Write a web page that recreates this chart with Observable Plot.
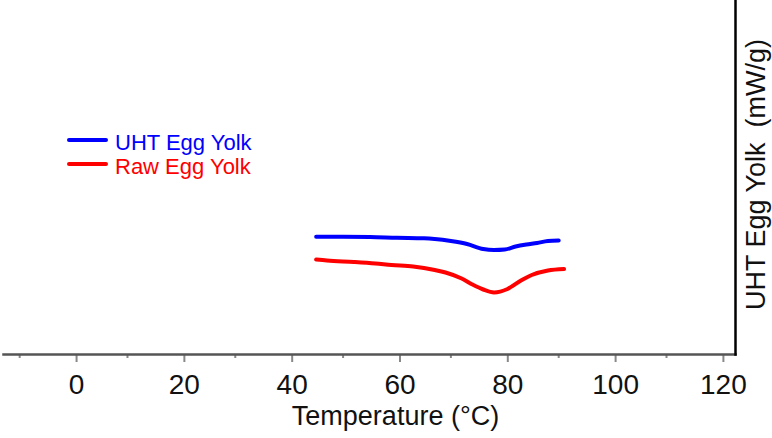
<!DOCTYPE html>
<html>
<head>
<meta charset="utf-8">
<script src="https://cdn.jsdelivr.net/npm/d3@7"></script>
<script src="https://cdn.jsdelivr.net/npm/@observablehq/plot@0.6"></script>
<style>
  body { margin: 0; background: #fff; font-family: "Liberation Sans", Arial, sans-serif; }
  #wrap { position: relative; width: 772px; height: 438px; }
  .leg { position: absolute; left: 67px; height: 26px; display: flex; align-items: center; font-size: 22px; line-height: 26px; }
  .leg span.sw { display: inline-block; width: 41px; height: 4px; margin-right: 7px; border-radius: 2px; position: relative; top: -3px; }
</style>
</head>
<body>
<div id="wrap"></div>
<script>
// Temperature (°C) and heat flow (arbitrary offset, mW/g)
const uhtTemp = [45, 50, 55, 60, 65, 67, 70, 73, 76, 78, 80, 82, 84, 86, 88, 90];
const uhtFlow = [1.177, 1.177, 1.175, 1.167, 1.162, 1.155, 1.135, 1.105, 1.055, 1.045, 1.05, 1.08, 1.10, 1.115, 1.135, 1.14];
const rawTemp = [45, 47, 52, 56, 59, 63, 65, 67, 69, 72, 74, 76, 78, 80.5, 83, 85, 88, 91];
const rawFlow = [0.95, 0.94, 0.925, 0.91, 0.895, 0.88, 0.865, 0.845, 0.82, 0.76, 0.70, 0.65, 0.62, 0.655, 0.74, 0.795, 0.84, 0.855];
const seriesNames = ["UHT Egg Yolk", "Raw Egg Yolk"];
const seriesColors = ["#0000ff", "#ff0000"];
const majorTicks = [0, 20, 40, 60, 80, 100, 120];
const minorTicks = [-10, 10, 30, 50, 70, 90, 110];
const xLabel = "Temperature (°C)";
const yLabel = "UHT Egg Yolk  (mW/g)";

const uht = uhtTemp.map((t, i) => ({t, v: uhtFlow[i], s: seriesNames[0]}));
const raw = rawTemp.map((t, i) => ({t, v: rawFlow[i], s: seriesNames[1]}));

const chart = Plot.plot({
  width: 772,
  height: 438,
  marginLeft: 3,
  marginRight: 37,
  marginTop: 0,
  marginBottom: 84,
  style: {fontFamily: "'Liberation Sans', Arial, sans-serif", background: "#fff"},
  x: {domain: [-13, 122.8]},
  y: {domain: [0, 3.54], axis: null},
  color: {domain: seriesNames, range: seriesColors},
  marks: [
    Plot.axisX({ticks: minorTicks, tickSize: 4, tickFormat: () => "", stroke: "#888", strokeWidth: 2, label: null}),
    Plot.axisX({ticks: majorTicks, tickSize: 8, tickPadding: 12, fontSize: 28, dx: 3, stroke: "#888", strokeWidth: 2, label: null, fill: "#111"}),
    Plot.frame({anchor: "bottom", stroke: "#555", strokeWidth: 2.5}),
    Plot.frame({anchor: "right", stroke: "#000", strokeWidth: 2.5}),
    Plot.line(uht, {x: "t", y: "v", stroke: "s", strokeWidth: 4, curve: "monotone-x"}),
    Plot.line(raw, {x: "t", y: "v", stroke: "s", strokeWidth: 4, curve: "monotone-x"}),
    Plot.text([xLabel], {frameAnchor: "bottom", lineAnchor: "middle", dy: 62, dx: 26, fontSize: 27, fill: "#111"}),
    Plot.text([yLabel], {frameAnchor: "right", textAnchor: "middle", lineAnchor: "middle", rotate: -90, dx: 21, dy: -3, fontSize: 27, fill: "#111"})
  ]
});
const wrap = document.getElementById("wrap");
wrap.appendChild(chart);
chart.querySelectorAll("text").forEach(t => { t.setAttribute("xml:space", "preserve"); t.style.whiteSpace = "pre"; });
seriesNames.forEach((name, i) => {
  const d = document.createElement("div");
  d.className = "leg";
  d.style.top = (130 + i * 24) + "px";
  d.style.color = seriesColors[i];
  d.innerHTML = `<span class="sw" style="background:${seriesColors[i]}"></span>${name}`;
  wrap.appendChild(d);
});
</script>
</body>
</html>
